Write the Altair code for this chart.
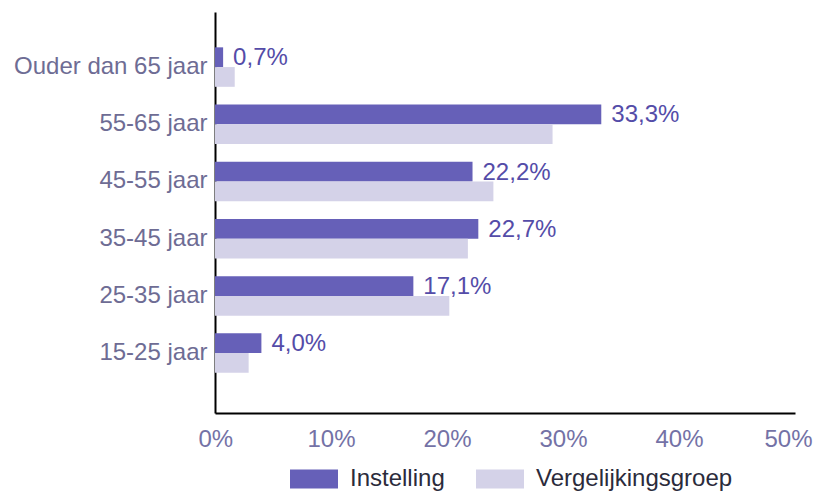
import altair as alt
import pandas as pd

categories = ["Ouder dan 65 jaar", "55-65 jaar", "45-55 jaar", "35-45 jaar", "25-35 jaar", "15-25 jaar"]
series = ["Instelling", "Vergelijkingsgroep"]
instelling = [0.7, 33.3, 22.2, 22.7, 17.1, 4.0]
vergelijking = [1.7, 29.1, 24.0, 21.8, 20.2, 2.9]
x_ticks = [0, 10, 20, 30, 40, 50]
colors = ["#6660b8", "#d4d2e8"]

rows = []
for c, a, b in zip(categories, instelling, vergelijking):
    rows.append({"cat": c, "serie": series[0], "value": a})
    rows.append({"cat": c, "serie": series[1], "value": b})
df = pd.DataFrame(rows)

FONT = "Liberation Sans"

y_enc = alt.Y(
    "cat:N",
    sort=categories,
    scale=alt.Scale(paddingInner=0.31, paddingOuter=0.66, align=0.468),
    axis=alt.Axis(
        title=None, ticks=False, labelPadding=8, labelFontSize=24,
        labelColor="#6e6c94", labelFont=FONT, domainColor="#000000",
        domainWidth=2, labelLimit=300, grid=False,
    ),
)
x_enc = alt.X(
    "value:Q",
    scale=alt.Scale(domain=[0, 50], nice=False),
    axis=alt.Axis(
        values=x_ticks, labelExpr="datum.value + '%'", title=None, ticks=False,
        grid=False, labelPadding=14, labelFontSize=24, labelColor="#7472a6",
        labelFont=FONT, domainColor="#000000", domainWidth=2,
        labelFlush=True, labelFlushOffset=17, labelOverlap=False,
    ),
)
yoff = alt.YOffset("serie:N", sort=series,
                   scale=alt.Scale(domain=series, paddingInner=0, paddingOuter=0))

base = alt.Chart(df)

bars = base.mark_bar(opacity=1).encode(
    x=x_enc,
    y=y_enc,
    yOffset=yoff,
    color=alt.Color(
        "serie:N", sort=series,
        scale=alt.Scale(domain=series, range=colors),
        legend=alt.Legend(
            title=None, orient="none", legendX=75, legendY=443,
            direction="horizontal", symbolType="M-1,-0.4H1V0.4H-1Z",
            symbolSize=2304, symbolStrokeWidth=0, symbolOpacity=1,
            labelFontSize=24, labelFont=FONT, labelColor="#2b2b3b",
            labelOffset=12, columnPadding=31, labelLimit=400,
        ),
    ),
)

labels = base.transform_calculate(
    label="datum.serie == 'Instelling' ? replace(format(datum.value, '.1f'), '.', ',') + '%' : ''"
).mark_text(
    align="left", baseline="middle", dx=10, dy=1, fontSize=24, font=FONT,
    color="#544ca8",
).encode(
    x=alt.X("value:Q"),
    y=alt.Y("cat:N", sort=categories),
    yOffset=yoff,
    text="label:N",
)

chart = alt.layer(bars, labels).properties(
    width=580,
    height=401,
    autosize=alt.AutoSizeParams(type="none"),
    padding={"left": 207, "top": 4, "right": 19, "bottom": 83},
).configure(background="#ffffff").configure_view(stroke=None)

chart.save("out.html", embed_options={"renderer": "svg", "actions": False})
